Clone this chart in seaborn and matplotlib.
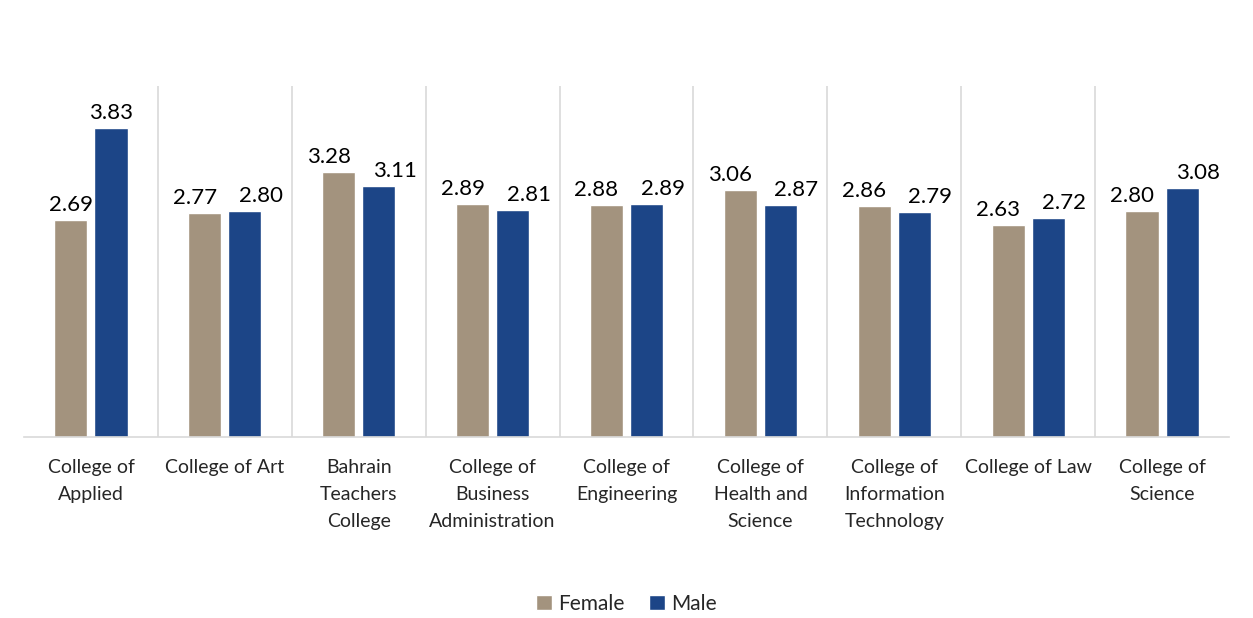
import pandas as pd
import matplotlib.pyplot as plt
import seaborn as sns

# Data
colleges = ['College of\nApplied', 'College of Art', 'Bahrain\nTeachers\nCollege',
            'College of\nBusiness\nAdministration', 'College of\nEngineering',
            'College of\nHealth and\nScience', 'College of\nInformation\nTechnology',
            'College of Law', 'College of\nScience']
female = [2.69, 2.77, 3.28, 2.89, 2.88, 3.06, 2.86, 2.63, 2.80]
male = [3.83, 2.80, 3.11, 2.81, 2.89, 2.87, 2.79, 2.72, 3.08]

df = pd.DataFrame({'College': colleges * 2,
                   'Gender': ['Female'] * len(colleges) + ['Male'] * len(colleges),
                   'Score': female + male})

sns.set_style('white')
plt.rcParams['font.family'] = ['Lato', 'DejaVu Sans']

fig = plt.figure(figsize=(12.53, 6.18), dpi=100)
ax = fig.add_axes([24 / 1253, 181 / 618, 1205 / 1253, 351 / 618])

palette = {'Female': '#A3937E', 'Male': '#1C4587'}
sns.barplot(data=df, x='College', y='Score', hue='Gender', palette=palette,
            width=0.6, gap=0.175, ax=ax, legend=True, saturation=1)

# value labels, nudged apart like Excel does when they would collide
for cont, vals, other, shift in [(ax.containers[0], female, male, -10),
                                 (ax.containers[1], male, female, 16)]:
    for bar, v, o in zip(cont, vals, other):
        dx = shift if abs(v - o) < 0.5 else 0
        ax.annotate(f'{v:.2f}', (bar.get_x() + bar.get_width() / 2, bar.get_height()),
                    xytext=(dx, 5), textcoords='offset pixels',
                    ha='center', va='bottom', fontsize=16, color='#000000')

ax.set_ylim(0, 4.35)
ax.set_xlim(-0.5, len(colleges) - 0.5)
ax.set_yticks([])
ax.set_xlabel('')
ax.set_ylabel('')
ax.tick_params(axis='x', length=0, pad=16, labelsize=14)
for lab in ax.get_xticklabels():
    lab.set_linespacing(1.7)

for s in ['top', 'right', 'left']:
    ax.spines[s].set_visible(False)
ax.spines['bottom'].set_color('#D9D9D9')
ax.spines['bottom'].set_linewidth(1.2)

# category separators
for i in range(len(colleges) - 1):
    ax.axvline(i + 0.5, color='#D9D9D9', linewidth=1.2, zorder=0)

ax.legend(loc='center', bbox_to_anchor=(0.5, -(604 - 437) / 351), ncol=2,
          frameon=False, fontsize=15, handlelength=0.75, handleheight=0.75,
          handletextpad=0.3, columnspacing=1.2)

fig.savefig('out.png', dpi=100)
